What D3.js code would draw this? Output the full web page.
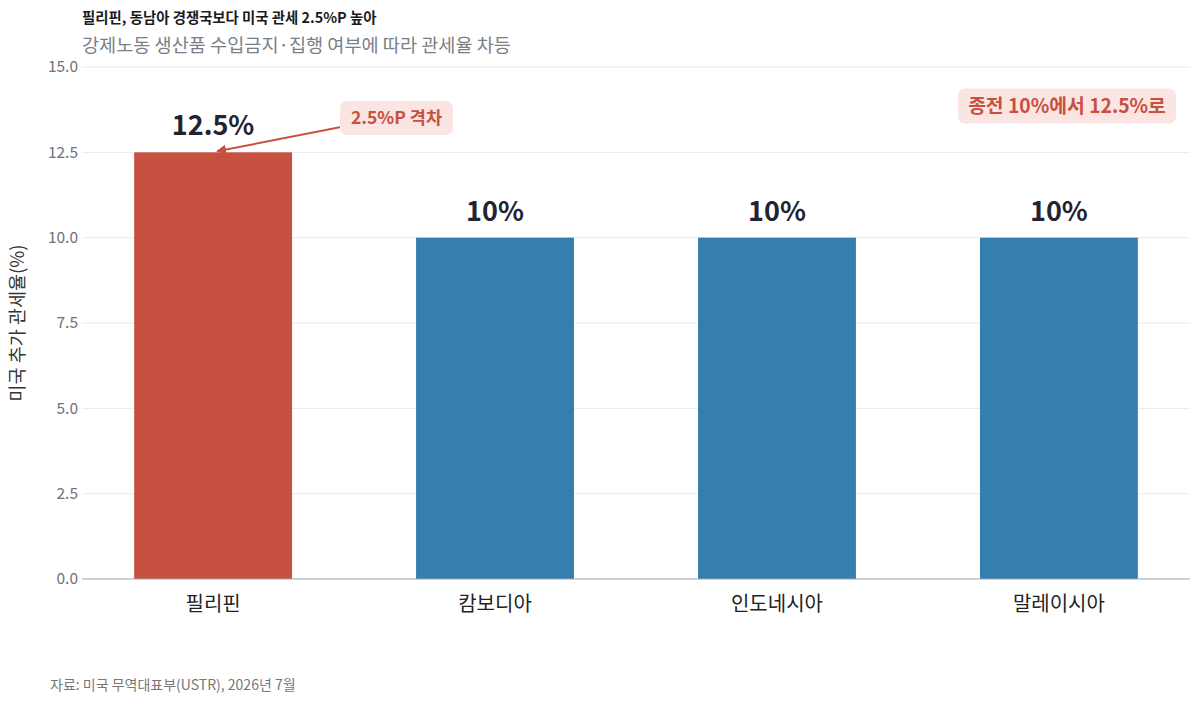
<!DOCTYPE html>
<html>
<head>
<meta charset="utf-8">
<script src="https://cdn.jsdelivr.net/npm/d3@7"></script>
<style>
  body { margin: 0; background: #fff; }
  svg { font-family: "Noto Sans CJK KR", "Noto Sans", sans-serif; }
</style>
</head>
<body>
<svg id="chart" width="1200" height="703"></svg>
<script>
const countries = ['필리핀', '캄보디아', '인도네시아', '말레이시아']
const tariffs = [12.5, 10, 10, 10]
const labels = ['12.5%', '10%', '10%', '10%']
const yTicks = [0, 2.5, 5, 7.5, 10, 12.5, 15]

const svg = d3.select('#chart')
const plotLeft = 82, plotRight = 1190, plotTop = 67, plotBottom = 579

const x = d3.scaleBand()
    .domain(countries)
    .range([plotLeft, plotRight])
    .paddingInner(0.44)
    .paddingOuter(0.185)
const y = d3.scaleLinear()
    .domain([0, 15])
    .range([plotBottom, plotTop])

// grid
svg.append('g')
    .selectAll('line')
    .data(yTicks.filter(d => d > 0))
    .join('line')
    .attr('x1', plotLeft).attr('x2', plotRight)
    .attr('y1', d => y(d)).attr('y2', d => y(d))
    .attr('stroke', '#e6e8eb')
    .attr('stroke-width', 1)

// y tick labels
svg.append('g')
    .selectAll('text')
    .data(yTicks)
    .join('text')
    .attr('x', plotLeft - 4)
    .attr('y', d => y(d))
    .attr('dy', '0.35em')
    .attr('text-anchor', 'end')
    .attr('font-size', 15.5)
    .attr('fill', '#6b7280')
    .text(d => d.toFixed(1))

// bars
svg.append('g')
    .selectAll('rect')
    .data(countries)
    .join('rect')
    .attr('x', d => x(d))
    .attr('width', x.bandwidth())
    .attr('y', (d, i) => y(tariffs[i]))
    .attr('height', (d, i) => y(0) - y(tariffs[i]))
    .attr('fill', (d, i) => i == 0 ? '#c85040' : '#357eb0')

// baseline
svg.append('line')
    .attr('x1', plotLeft).attr('x2', plotRight)
    .attr('y1', y(0)).attr('y2', y(0))
    .attr('stroke', '#9aa5b1')
    .attr('stroke-width', 1.2)

// value labels
svg.append('g')
    .selectAll('text')
    .data(countries)
    .join('text')
    .attr('x', d => x(d) + x.bandwidth() / 2)
    .attr('y', (d, i) => y(tariffs[i]) - 17)
    .attr('text-anchor', 'middle')
    .attr('font-size', 27)
    .attr('font-weight', 'bold')
    .attr('fill', '#1f2430')
    .text((d, i) => labels[i])

// x labels
svg.append('g')
    .selectAll('text')
    .data(countries)
    .join('text')
    .attr('x', d => x(d) + x.bandwidth() / 2)
    .attr('y', 611)
    .attr('text-anchor', 'middle')
    .attr('font-size', 20)
    .attr('fill', '#222')
    .text(d => d)

// y axis title
svg.append('text')
    .attr('transform', `translate(24,${(plotTop + plotBottom) / 2}) rotate(-90)`)
    .attr('text-anchor', 'middle')
    .attr('font-size', 18.5)
    .attr('fill', '#333')
    .text('미국 추가 관세율(%)')

// titles
svg.append('text')
    .attr('x', 82).attr('y', 23)
    .attr('font-size', 14.4)
    .attr('font-weight', 'bold')
    .attr('fill', '#1a1a1a')
    .text('필리핀, 동남아 경쟁국보다 미국 관세 2.5%P 높아')
svg.append('text')
    .attr('x', 82).attr('y', 52)
    .attr('font-size', 18.6)
    .attr('fill', '#7a7f87')
    .text('강제노동 생산품 수입금지·집행 여부에 따라 관세율 차등')

// footer
svg.append('text')
    .attr('x', 50).attr('y', 690)
    .attr('font-size', 14)
    .attr('fill', '#777')
    .text('자료: 미국 무역대표부(USTR), 2026년 7월')

// annotation: gap arrow
svg.append('defs').append('marker')
    .attr('id', 'arrowhead')
    .attr('viewBox', '0 0 10 10')
    .attr('refX', 9).attr('refY', 5)
    .attr('markerWidth', 5).attr('markerHeight', 5)
    .attr('orient', 'auto')
    .append('path')
    .attr('d', 'M0,0 L10,5 L0,10 z')
    .attr('fill', '#c85040')

const tipX = x(countries[0]) + x.bandwidth() / 2 + 4
svg.append('line')
    .attr('x1', 341).attr('y1', 127)
    .attr('x2', tipX).attr('y2', y(tariffs[0]) - 1)
    .attr('stroke', '#c85040')
    .attr('stroke-width', 2)
    .attr('marker-end', 'url(#arrowhead)')

const note = (cx, cy, w, h, fs, txt) => {
    svg.append('rect')
        .attr('x', cx - w / 2).attr('y', cy - h / 2)
        .attr('width', w).attr('height', h)
        .attr('rx', 7)
        .attr('fill', '#fbe5e2')
    svg.append('text')
        .attr('x', cx).attr('y', cy)
        .attr('dy', '0.36em')
        .attr('text-anchor', 'middle')
        .attr('font-size', fs)
        .attr('font-weight', 'bold')
        .attr('fill', '#c85040')
        .text(txt)
}
note(396.5, 118, 113, 34, 17.5, '2.5%P 격차')
note(1067, 106, 218, 35, 19.3, '종전 10%에서 12.5%로')
</script>
</body>
</html>
